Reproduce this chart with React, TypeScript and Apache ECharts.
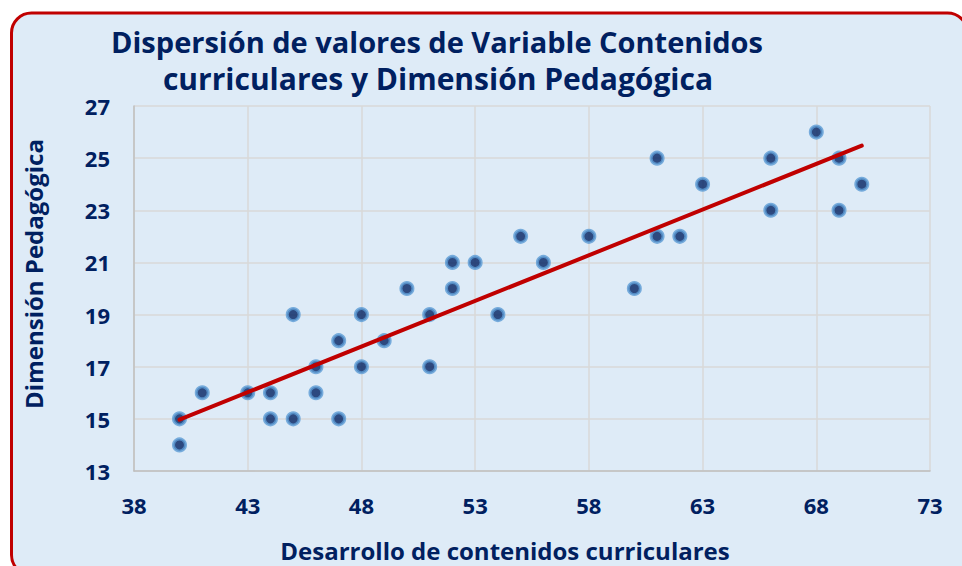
import React, { useEffect, useRef } from "react";
import * as echarts from "echarts";

const xValues = [40, 40, 41, 43, 44, 44, 45, 45, 46, 46, 47, 47, 48, 48, 49, 50, 51, 51, 52, 52, 53, 54, 55, 56, 58, 60, 61, 61, 62, 63, 66, 66, 68, 69, 69, 70];
const yValues = [15, 14, 16, 16, 16, 15, 19, 15, 17, 16, 18, 15, 19, 17, 18, 20, 19, 17, 21, 20, 21, 19, 22, 21, 22, 20, 25, 22, 22, 24, 25, 23, 26, 25, 23, 24];

const titleLines = ["Dispersión de valores de Variable Contenidos", "curriculares y Dimensión Pedagógica"];
const xAxisTitle = "Desarrollo de contenidos curriculares";
const yAxisTitle = "Dimensión Pedagógica";

const NAVY = "#002060";
const FONT = "Open Sans";

function regression(xs: number[], ys: number[]) {
  const n = xs.length;
  const mx = xs.reduce((a, b) => a + b, 0) / n;
  const my = ys.reduce((a, b) => a + b, 0) / n;
  let sxy = 0;
  let sxx = 0;
  for (let i = 0; i < n; i++) {
    sxy += (xs[i] - mx) * (ys[i] - my);
    sxx += (xs[i] - mx) * (xs[i] - mx);
  }
  const b = sxy / sxx;
  const a = my - b * mx;
  return { a, b };
}

export default function App() {
  const ref = useRef<HTMLDivElement>(null);
  useEffect(() => {
    if (!ref.current) return;
    const chart = echarts.init(ref.current, undefined, { renderer: "svg" });
    const points = xValues.map((x, i) => [x, yValues[i]]);
    const { a, b } = regression(xValues, yValues);
    const x0 = Math.min(...xValues);
    const x1 = Math.max(...xValues);
    const trend = [
      [x0, a + b * x0],
      [x1, a + b * x1],
    ];
    const textStyle = (text: string, size: number) => ({
      text,
      fontFamily: FONT,
      fontWeight: "bold",
      fontSize: size,
      fill: NAVY,
      textAlign: "center",
      textVerticalAlign: "middle",
    });
    chart.setOption({
      animation: false,
      backgroundColor: "#ffffff",
      graphic: {
        elements: [
          {
            type: "rect",
            z: -10,
            silent: true,
            shape: { x: 11.5, y: 13, width: 956, height: 562, r: 20 },
            style: { fill: "#deebf7", stroke: "#c00000", lineWidth: 3 },
          },
          { type: "text", x: 437, y: 41, style: textStyle(titleLines[0], 29) },
          { type: "text", x: 438, y: 78, style: textStyle(titleLines[1], 30) },
          { type: "text", x: 505, y: 550, style: textStyle(xAxisTitle, 24) },
          { type: "text", x: 33, y: 274, rotation: Math.PI / 2, style: textStyle(yAxisTitle, 24) },
        ],
      },
      grid: { left: 134, right: 32, top: 106, bottom: 95 },
      xAxis: {
        type: "value",
        min: 38,
        max: 73,
        interval: 5,
        axisLine: { show: true, lineStyle: { color: "#bfbfbf", width: 1.5 } },
        axisTick: { show: false },
        splitLine: { show: true, lineStyle: { color: "#d9d9d9", width: 1.5 } },
        axisLabel: { color: NAVY, fontFamily: FONT, fontWeight: "bold", fontSize: 22, margin: 23 },
      },
      yAxis: {
        type: "value",
        min: 13,
        max: 27,
        interval: 2,
        axisLine: { show: true, lineStyle: { color: "#bfbfbf", width: 1.5 } },
        axisTick: { show: false },
        splitLine: { show: true, lineStyle: { color: "#d9d9d9", width: 1.5 } },
        axisLabel: { color: NAVY, fontFamily: FONT, fontWeight: "bold", fontSize: 22, margin: 24 },
      },
      series: [
        {
          type: "scatter",
          data: points,
          symbol: "circle",
          symbolSize: 12,
          z: 3,
          itemStyle: { color: "#002060", borderColor: "#5b9bd5", borderWidth: 3 },
        },
        {
          type: "line",
          data: trend,
          showSymbol: false,
          symbol: "none",
          z: 4,
          lineStyle: { color: "#c00000", width: 4, cap: "round" },
        },
      ],
    });
    return () => chart.dispose();
  }, []);
  return (
    <div
      ref={ref}
      style={{ position: "absolute", left: 0, top: 0, width: 962, height: 566 }}
    />
  );
}
